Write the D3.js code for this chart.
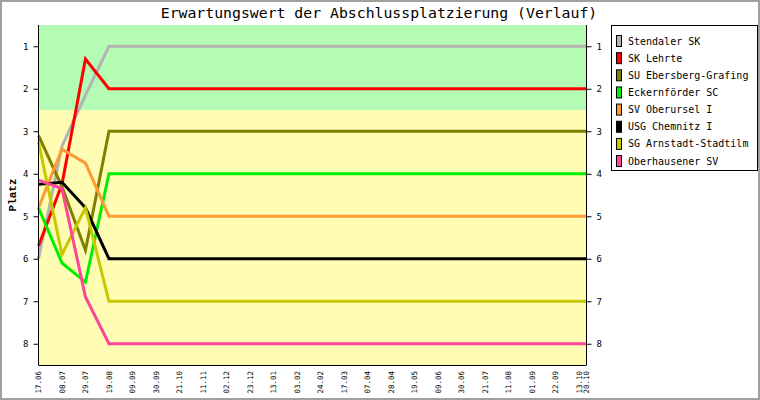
<!DOCTYPE html>
<html><head><meta charset="utf-8">
<script src="https://cdn.jsdelivr.net/npm/d3@7/dist/d3.min.js"></script>
<style>body{margin:0;background:#fff}svg{display:block}</style>
</head><body>
<svg id="c" width="760" height="400"></svg>
<script>
const title = "Erwartungswert der Abschlussplatzierung (Verlauf)";
const teams = ["Stendaler SK","SK Lehrte","SU Ebersberg-Grafing","Eckernförder SC","SV Oberursel I","USG Chemnitz I","SG Arnstadt-Stadtilm","Oberhausener SV"];
const colors = ["#b4b4b4","#ff0000","#808000","#00f000","#ff9933","#000000","#c8c800","#ff4499"];
const pointDates = ["2018-06-17","2018-07-08","2018-07-29","2018-08-19","2019-10-20"];
const stendaler = [6.0, 3.35, 2.15, 1, 1];
const lehrte    = [5.7, 4.25, 1.3, 2, 2];
const ebersberg = [3.1, 4.3, 5.8, 3, 3];
const eckern    = [4.8, 6.1, 6.55, 4, 4];
const oberursel = [4.8, 3.42, 3.75, 5, 5];
const chemnitz  = [4.25, 4.2, 4.8, 6, 6];
const arnstadt  = [3.25, 5.9, 4.8, 7, 7];
const oberhausen= [4.15, 4.35, 6.9, 8, 8];
const series = [stendaler, lehrte, ebersberg, eckern, oberursel, chemnitz, arnstadt, oberhausen];
const yTicks = [1,2,3,4,5,6,7,8];
const tickDates = ["2018-06-17","2018-07-08","2018-07-29","2018-08-19","2018-09-09","2018-09-30","2018-10-21","2018-11-11","2018-12-02","2018-12-23","2019-01-13","2019-02-03","2019-02-24","2019-03-17","2019-04-07","2019-04-28","2019-05-19","2019-06-09","2019-06-30","2019-07-21","2019-08-11","2019-09-01","2019-09-22","2019-10-13","2019-10-20"];
const zones = [{from:0.5,to:2.5,color:"#b4fcb4"},{from:2.5,to:8.5,color:"#fffcb4"}];

const svg = d3.select("#c");
const L=38.5, R=586.5, T=25, B=365;
const parse = d3.utcParse("%Y-%m-%d");
const fmt = d3.utcFormat("%d.%m");
const x = d3.scaleUtc().domain([parse(pointDates[0]), parse(pointDates[pointDates.length-1])]).range([L, R]);
const y = d3.scaleLinear().domain([0.5, 8.5]).range([T, B]);

svg.append("rect").attr("x",1).attr("y",1).attr("width",758).attr("height",398)
  .attr("fill","#fff").attr("stroke","#a0a0a0").attr("stroke-width",2);

svg.selectAll("rect.zone").data(zones).enter().append("rect")
  .attr("x",L).attr("width",R-L).attr("y",d=>y(d.from)).attr("height",d=>y(d.to)-y(d.from))
  .attr("fill",d=>d.color);

const line = d3.line().x((d,i)=>x(parse(pointDates[i]))).y(d=>y(d));
series.forEach((s,k)=>{
  svg.append("path").attr("d",line(s)).attr("fill","none").attr("stroke",colors[k])
    .attr("stroke-width",3).attr("stroke-linejoin","miter");
});

// axes
const mono = "'DejaVu Sans Mono', monospace";
const yl = svg.append("g").attr("transform",`translate(${L},0)`).call(d3.axisLeft(y).tickValues(yTicks).tickSize(5).tickPadding(5));
const yr = svg.append("g").attr("transform",`translate(${R},0)`).call(d3.axisRight(y).tickValues(yTicks).tickSize(5).tickPadding(5));
[yl,yr].forEach(g=>{
  g.select(".domain").attr("d",`M0,${T}V${B}`).attr("stroke","#000");
  g.selectAll("text").attr("font-family",mono).attr("font-size","9px").attr("fill","#000");
});
const xa = svg.append("g").attr("transform",`translate(0,${B})`)
  .call(d3.axisBottom(x).tickValues(tickDates.map(parse)).tickSize(0).tickFormat(fmt));
xa.select(".domain").attr("d",`M${L},0.5H${R}`).attr("stroke","#000");
xa.selectAll("text").attr("font-family",mono).attr("font-size","7.5px").attr("fill","#000")
  .attr("text-anchor","end").attr("transform","rotate(-90)").attr("x",-6).attr("y",0).attr("dy","0.33em");

svg.append("text").attr("x",379).attr("y",18).attr("text-anchor","middle")
  .attr("font-family",mono).attr("font-size","14.8px").text(title);
svg.append("text").attr("transform","translate(16,195) rotate(-90)").attr("text-anchor","middle")
  .attr("font-family","'Liberation Mono', monospace").attr("font-weight","bold").attr("font-size","11px").text("Platz");

// legend
const lg = svg.append("g");
lg.append("rect").attr("x",611.5).attr("y",25.5).attr("width",146).attr("height",145)
  .attr("fill","#fff").attr("stroke","#000");
teams.forEach((t,i)=>{
  const yy = 35 + i*17.15;
  lg.append("rect").attr("x",616.5).attr("y",yy+0.5).attr("width",5).attr("height",11)
    .attr("fill",colors[i]).attr("stroke","#000");
  lg.append("text").attr("x",628).attr("y",yy+9.5).attr("font-family",mono).attr("font-size","10px").text(t);
});
</script>
</body></html>
